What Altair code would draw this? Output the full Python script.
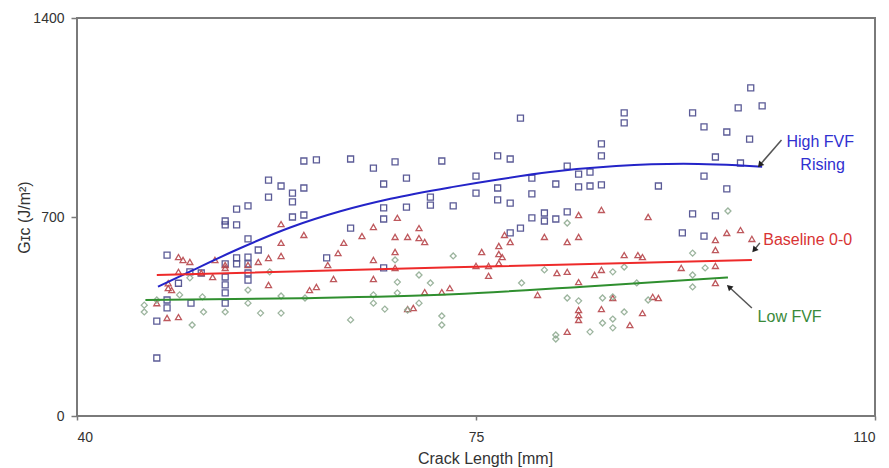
import altair as alt
import pandas as pd

# ---- data ----
blue_x = [47.0, 47.0, 47.9, 47.9, 47.9, 48.9, 50.0, 49.9, 50.9, 53.0, 53.0, 54.0, 54.0, 55.0, 55.0, 55.9,
          54.0, 54.0, 53.0, 53.0, 53.0, 53.0, 53.0, 55.0, 55.0, 55.0, 55.0, 56.8, 56.8, 57.9, 58.9, 58.9,
          58.9, 59.9, 59.9, 59.9, 61.0, 64.0, 64.0, 66.0, 66.9, 66.9, 66.9, 67.9, 61.9, 66.9, 68.9, 68.9,
          71.0, 71.0, 72.0, 73.0, 75.0, 75.0, 76.9, 78.0, 76.9, 76.9, 78.0, 78.9, 78.9, 78.0, 79.9, 79.9,
          79.9, 81.0, 81.0, 82.0, 82.0, 83.0, 83.0, 84.0, 84.0, 85.0, 85.0, 86.0, 86.0, 86.0, 88.0, 88.0,
          91.0, 94.0, 95.0, 97.0, 98.0, 99.1, 100.1, 99.0, 96.0, 98.2, 95.0, 97.0, 94.0, 96.0, 93.1, 95.0]
blue_y = [204, 334, 566, 408, 380, 467, 397, 507, 503, 686, 672, 672, 728, 739, 623, 584,
          556, 535, 535, 489, 461, 433, 397, 559, 535, 503, 478, 830, 770, 809, 784, 753,
          700, 802, 707, 897, 901, 904, 661, 872, 816, 732, 693, 894, 556, 521, 837, 735,
          770, 742, 897, 739, 844, 784, 915, 904, 802, 760, 749, 1048, 661, 644, 837, 781,
          697, 714, 686, 816, 693, 879, 718, 851, 806, 858, 809, 957, 915, 813, 1066, 1031,
          809, 1066, 1017, 999, 1084, 1154, 1091, 974, 911, 890, 844, 799, 711, 704, 644, 633]

red_x = [47.0, 47.9, 48.9, 48.0, 48.0, 48.3, 48.9, 49.3, 49.9, 48.9, 50.9, 51.9, 52.1, 53.0, 53.0, 55.0,
         55.9, 56.8, 56.8, 57.9, 57.9, 57.9, 59.9, 63.4, 62.9, 65.0, 66.0, 66.0, 66.0, 62.5, 62.0, 60.4,
         61.0, 67.9, 67.9, 67.9, 68.1, 69.0, 70.0, 70.0, 70.5, 70.5, 72.0, 72.7, 69.0, 69.5, 75.0, 76.1,
         76.1, 75.5, 77.0, 77.0, 77.3, 77.0, 77.5, 78.0, 84.0, 86.0, 81.0, 83.0, 84.0, 82.1, 83.0, 84.0,
         85.4, 86.0, 80.4, 84.0, 84.0, 84.0, 86.0, 87.0, 83.0, 88.5, 89.6, 90.1, 88.0, 89.2, 89.6, 90.5,
         91.0, 93.0, 96.0, 96.0, 97.0, 98.2, 99.2, 96.0, 96.0]
red_y = [397, 345, 348, 467, 450, 443, 559, 549, 542, 507, 503, 489, 549, 531, 521, 531,
         542, 556, 461, 675, 609, 563, 637, 609, 573, 633, 665, 549, 482, 482, 531, 443,
         454, 630, 577, 521, 697, 630, 661, 626, 612, 436, 436, 450, 376, 380, 528, 528,
         493, 577, 598, 570, 559, 538, 637, 612, 707, 725, 630, 612, 630, 503, 507, 471,
         496, 514, 426, 373, 355, 338, 376, 415, 296, 320, 362, 700, 566, 566, 559, 419,
         415, 521, 619, 584, 644, 654, 623, 528, 468]

green_x = [45.9, 45.9, 47.0, 49.0, 49.9, 50.1, 51.0, 51.1, 53.0, 55.0, 55.0, 56.1, 56.9, 57.9, 57.9, 60.0,
           64.0, 66.0, 66.0, 67.0, 67.9, 68.1, 68.1, 69.0, 70.0, 71.0, 70.0, 72.0, 72.0, 73.0, 79.0, 81.0,
           83.0, 82.0, 82.0, 83.0, 84.0, 85.0, 86.1, 86.1, 87.0, 87.0, 87.0, 88.0, 88.0, 89.1, 90.1, 87.0,
           94.0, 94.0, 94.0, 95.1, 97.1]
green_y = [366, 390, 408, 426, 486, 320, 419, 366, 366, 443, 397, 362, 507, 422, 362, 415,
           338, 426, 397, 376, 549, 471, 433, 373, 496, 468, 397, 352, 320, 563, 468, 514,
           679, 285, 271, 415, 405, 296, 415, 327, 507, 341, 310, 524, 366, 468, 408, 419,
           573, 496, 454, 521, 721]

# trend lines, values
blue_trend_x = [47.1, 49.9, 54.3, 58.7, 63.1, 67.5, 73.0, 77.1, 81.5, 87.3, 93.2, 100.1]
blue_trend_y = [455, 508, 590, 663, 720, 764, 806, 833, 858, 879, 887, 877]
red_trend_x = [47.0, 73.0, 99.2]
red_trend_y = [496, 523, 549]
green_trend_x = [46.0, 59.6, 73.0, 84.4, 97.1]
green_trend_y = [408, 414, 428, 455, 487]

series_names = ["High FVF Rising", "Baseline 0-0", "Low FVF"]
series_shapes = ["square", "triangle-up", "diamond"]
series_marker_colors = ["#4a4a8c", "#b8474c", "#92ad94"]
series_line_colors = ["#2424c8", "#ee2a2a", "#2f8f2f"]

x_ticks = [40, 75, 110]
y_ticks = [0, 700, 1400]

# annotations (data units)
ann_text = ["High FVF", "Rising", "Baseline 0-0", "Low FVF"]
ann_x = [105.2, 105.4, 100.2, 99.7]
ann_y = [964, 883, 619, 348]
ann_align = ["center", "center", "left", "left"]
ann_color = ["#3030d0", "#3030d0", "#d83434", "#3a8a3a"]

arrow_x1 = [101.8, 99.9, 99.2]
arrow_y1 = [971, 609, 380]
arrow_x2 = [99.9, 99.4, 97.2]
arrow_y2 = [883, 584, 454]
arrow_angle = [221, 220, 312]

# ---- tables ----
pts = pd.DataFrame({
    "x": blue_x + red_x + green_x,
    "y": blue_y + red_y + green_y,
    "series": [series_names[0]] * len(blue_x) + [series_names[1]] * len(red_x) + [series_names[2]] * len(green_x),
})
trends = pd.DataFrame({
    "x": blue_trend_x + red_trend_x + green_trend_x,
    "y": blue_trend_y + red_trend_y + green_trend_y,
    "trend": [series_names[0]] * len(blue_trend_x) + [series_names[1]] * len(red_trend_x)
             + [series_names[2]] * len(green_trend_x),
})
ann = pd.DataFrame({"text": ann_text, "x": ann_x, "y": ann_y, "align": ann_align, "color": ann_color})
arr = pd.DataFrame({"x": arrow_x1, "y": arrow_y1, "x2": arrow_x2, "y2": arrow_y2, "angle": arrow_angle})

FONT = "Liberation Sans"
xs = alt.Scale(domain=[40, 110], nice=False, zero=False)
ys = alt.Scale(domain=[0, 1400], nice=False)

X = alt.X("x:Q", scale=xs, axis=alt.Axis(values=x_ticks, format="d", title="Crack Length [mm]",
                                         tickSize=4, labelPadding=10, titleX=408, titleY=34,
                                         titleBaseline="top"))
Y = alt.Y("y:Q", scale=ys, axis=alt.Axis(values=y_ticks, format="d", title="Gɪᴄ (J/m²)",
                                         tickSize=6, labelPadding=7, titleX=-45))

points = alt.Chart(pts).mark_point(filled=False, size=36, strokeWidth=1.3, opacity=0.9).encode(
    x=X, y=Y,
    shape=alt.Shape("series:N", scale=alt.Scale(domain=series_names, range=series_shapes), legend=None),
    color=alt.Color("series:N", scale=alt.Scale(domain=series_names, range=series_marker_colors), legend=None),
)

lines = alt.Chart(trends).mark_line(strokeWidth=2, interpolate="monotone").encode(
    x=alt.X("x:Q", scale=xs), y=alt.Y("y:Q", scale=ys),
    detail="trend:N",
    color=alt.Color("trend:N", scale=alt.Scale(domain=series_names, range=series_line_colors), legend=None),
)

arrows = alt.Chart(arr).mark_rule(color="#555555", strokeWidth=1.5).encode(
    x=alt.X("x:Q", scale=xs), y=alt.Y("y:Q", scale=ys), x2="x2:Q", y2="y2:Q")
heads = alt.Chart(arr).mark_point(shape="triangle-up", filled=True, size=45, color="#222222", opacity=1).encode(
    x=alt.X("x2:Q", scale=xs), y=alt.Y("y2:Q", scale=ys), angle=alt.Angle("angle:Q", scale=None))

text_c = alt.Chart(ann).transform_filter(alt.datum.align == "center").mark_text(
    align="center", baseline="middle", fontSize=16, font=FONT).encode(
    x=alt.X("x:Q", scale=xs), y=alt.Y("y:Q", scale=ys), text="text:N", color=alt.Color("color:N", scale=None))
text_l = alt.Chart(ann).transform_filter(alt.datum.align == "left").mark_text(
    align="left", baseline="middle", fontSize=16, font=FONT).encode(
    x=alt.X("x:Q", scale=xs), y=alt.Y("y:Q", scale=ys), text="text:N", color=alt.Color("color:N", scale=None))

chart = alt.layer(points, lines, arrows, heads, text_c, text_l).resolve_scale(
    color="independent"
).properties(
    width=798, height=398,
    autosize=alt.AutoSizeParams(type="none"),
    padding={"left": 69, "top": 10, "right": 6, "bottom": 52},
).configure_view(stroke="#7a7a7a", strokeWidth=2).configure_axis(
    grid=False, domain=False, tickColor="#7a7a7a", tickWidth=1.5,
    labelFont=FONT, labelFontSize=14, labelColor="#333333",
    titleFont=FONT, titleFontSize=16, titleFontWeight="normal", titleColor="#333333",
)

chart.save("out.html", embed_options={"renderer": "svg", "actions": False})
